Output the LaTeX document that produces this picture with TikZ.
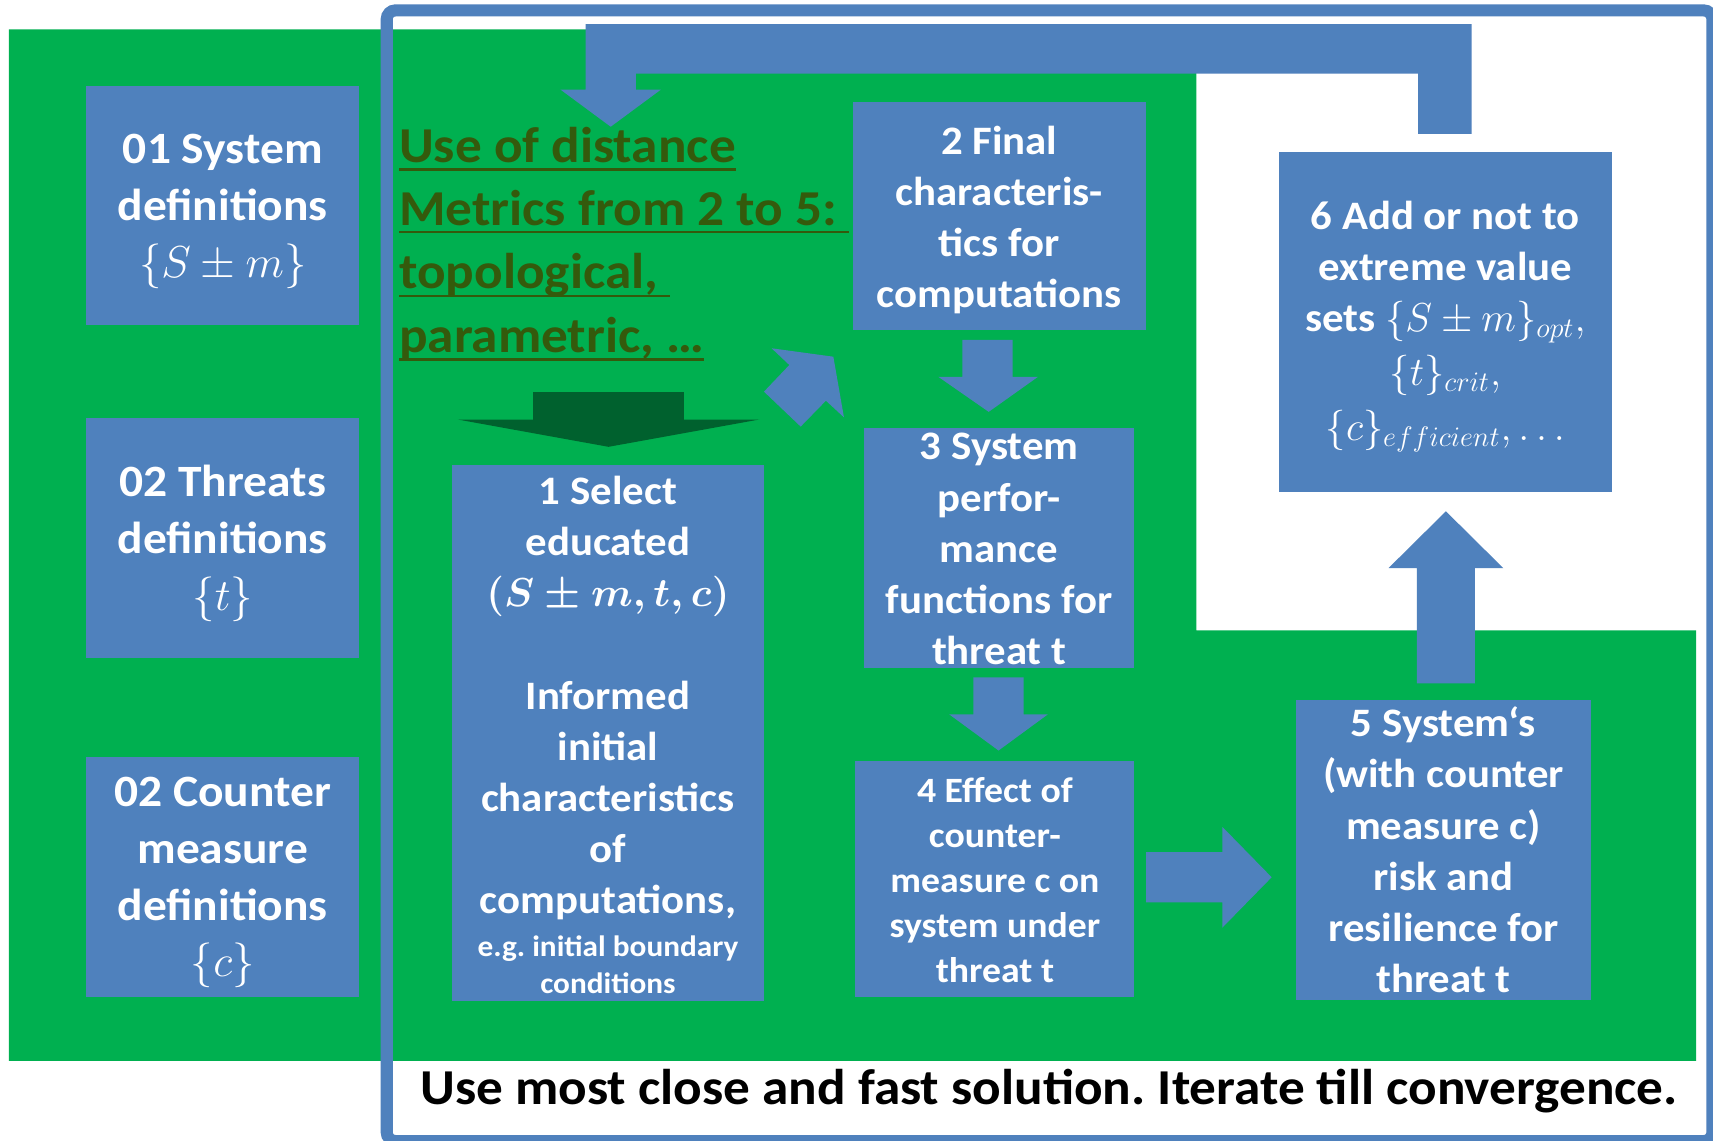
\RequirePackage{fix-cm}
\documentclass[tikz,border=0pt]{standalone}
\usepackage{fontspec}
\setmainfont{Carlito}[FakeStretch=1.06]
\definecolor{boxblue}{RGB}{79,129,189}
\definecolor{fieldgreen}{RGB}{0,176,80}
\definecolor{deepgreen}{RGB}{0,97,46}
\definecolor{olivetext}{RGB}{52,90,12}
% soft grey towards the corners of the slide
\pgfdeclareradialshading{slidebg}{\pgfpoint{0bp}{0bp}}{%
  color(0bp)=(white); color(57bp)=(white); color(71bp)=(black!11)}
% underline drawn as a heavier rule below the baseline
\newcommand\heavyul[1]{\setbox0\hbox{#1}\rlap{\rule[-3.8pt]{\wd0}{1.15pt}}\box0}
\frenchspacing
\begin{document}
\begin{tikzpicture}[x=0.5pt, y=-0.5pt,
  stepbox/.style={fill=boxblue, draw=none, inner sep=0pt, outer sep=0pt},
  deftext/.style={text=white, align=center, inner sep=0pt, yshift=-2.6pt,
    font=\fontsize{20.5pt}{26pt}\selectfont\bfseries},
  steptext/.style={text=white, align=center, inner sep=0pt,
    font=\fontsize{18.5pt}{23.4pt}\selectfont\bfseries},
  effecttext/.style={text=white, align=center, inner sep=0pt,
    font=\fontsize{16.3pt}{20.6pt}\selectfont\bfseries},
  usetext/.style={text=olivetext, inner sep=0pt,
    font=\fontsize{23pt}{29pt}\selectfont\bfseries},
  blockarrow/.style={fill=boxblue, draw=none},
]
\useasboundingbox (0,0) rectangle (1568,1044);
\shade[shading=slidebg] (0,0) rectangle (1568,1044);

% green working field with the white notch at the upper right
\fill[fieldgreen] (8.2,26.9) -- (1095,26.9) -- (1095,577) -- (1552.5,577)
  -- (1552.5,971) -- (8.2,971) -- cycle;

% blue frame around the iteration loop
\draw[boxblue, line width=5.5pt, rounded corners=4pt] (354,9.5) rectangle (1567.5,1044.5);

% feedback arrow from step 6 back to the metrics
\fill[blockarrow] (1347,22) -- (536,22) -- (536,82) -- (513,82) -- (559,116)
  -- (605,82) -- (582,82) -- (582,67.5) -- (1298,67.5) -- (1298,122.5)
  -- (1347,122.5) -- cycle;

% definition boxes
\node[stepbox, minimum width=125pt, minimum height=109.5pt] (sysdef) at (203.9,188.3) {};
\node[deftext] (sysdeft) at (sysdef) {01 System\\definitions\\$\{S\pm m\}$};
\node[stepbox, minimum width=125pt, minimum height=109.8pt] (thrdef) at (203.9,492.1) {};
\node[deftext] (thrdeft) at (thrdef) {02 Threats\\definitions\\$\{t\}$};
\node[stepbox, minimum width=125pt, minimum height=109.75pt] (cmdef) at (203.9,802.7) {};
\node[deftext] (cmdeft) at (cmdef) {02 Counter\\measure\\definitions\\$\{c\}$};

% process steps
\node[stepbox, minimum width=142.8pt, minimum height=245.45pt] (select) at (556.5,671) {};
\node[steptext, yshift=-0.8pt] (selectt) at (select) {1 Select\\educated\\{\boldmath$(S\pm m,t,c)$}\\[23.4pt]
  Informed\\initial\\characteristics\\of\\computations,\\[-3.9pt]
  \fontsize{13.5pt}{17pt}\selectfont e.g. initial boundary\\[-6.4pt]
  \fontsize{13.5pt}{17pt}\selectfont conditions};
\node[stepbox, minimum width=133.95pt, minimum height=104pt] (final) at (914.6,197.7) {};
\node[steptext, yshift=-1.8pt] (finalt) at (final) {2 Final\\characteris-\\tics for\\computations};
\node[stepbox, minimum width=123.85pt, minimum height=109.4pt] (perf) at (914.6,501.6) {};
\node[steptext, yshift=-0.5pt] (perft) at (perf) {3 System\\perfor-\\mance\\functions for\\threat t};
\node[stepbox, minimum width=127.7pt, minimum height=107.85pt] (effect) at (910.7,804.6) {};
\node[effecttext, yshift=-0.4pt] (effectt) at (effect) {4 Effect of\\counter-\\measure c on\\system under\\threat t};
\node[stepbox, minimum width=135.3pt, minimum height=137.1pt] (risk) at (1321.3,777.9) {};
\node[steptext] (riskt) at (risk) {5 System‘s\\(with counter\\measure c)\\risk and\\resilience for\\threat t};
\node[stepbox, minimum width=152.65pt, minimum height=155.8pt] (extreme) at (1323,294.7) {};
\node[steptext, yshift=-2.2pt] (extremet) at (extreme) {6 Add or not to\\extreme value\\sets $\{S\pm m\}_{opt},$\\[1pt]
  $\{t\}_{crit},$\\[2pt]$\{c\}_{efficient},\dots$};

% metrics note
\node[usetext, anchor=base west] (use1) at (365,148.5) {\heavyul{Use of distance}};
\node[usetext, anchor=base west] (use2) at (365,206) {\heavyul{Metrics from 2 to 5: }};
\node[usetext, anchor=base west] (use3) at (365,264.5) {\heavyul{topological, }};
\node[usetext, anchor=base west] (use4) at (365,322.5) {\heavyul{parametric, …}};

% block arrows between the steps
\fill[deepgreen] (488,359) -- (626,359) -- (626,384) -- (695,384) -- (557,409)
  -- (419,384) -- (488,384) -- cycle;
\fill[blockarrow] (706.3,318.8) -- (762.8,326.5) -- (772.5,382) -- (756,366.8)
  -- (732.9,390.5) -- (699.3,358.5) -- (722.5,334.1) -- cycle;
\fill[blockarrow] (881,311) -- (927,311) -- (927,345) -- (950,345) -- (905,377)
  -- (859,345) -- (881,345) -- cycle;
\fill[blockarrow] (891,620) -- (937,620) -- (937,654) -- (959,654) -- (914,687)
  -- (869,654) -- (891,654) -- cycle;
\fill[blockarrow] (1049,780) -- (1119,780) -- (1119,757) -- (1164,803) -- (1119,849)
  -- (1119,826) -- (1049,826) -- cycle;
\fill[blockarrow] (1297,625.5) -- (1297,520) -- (1271,520) -- (1323.5,468)
  -- (1376,520) -- (1350,520) -- (1350,625.5) -- cycle;

% closing remark
\node[font=\fontsize{23pt}{27pt}\selectfont\bfseries, anchor=base, inner sep=0pt]
  (motto) at (960.3,1011) {Use most close and fast solution. Iterate till convergence.};
\end{tikzpicture}
\end{document}
